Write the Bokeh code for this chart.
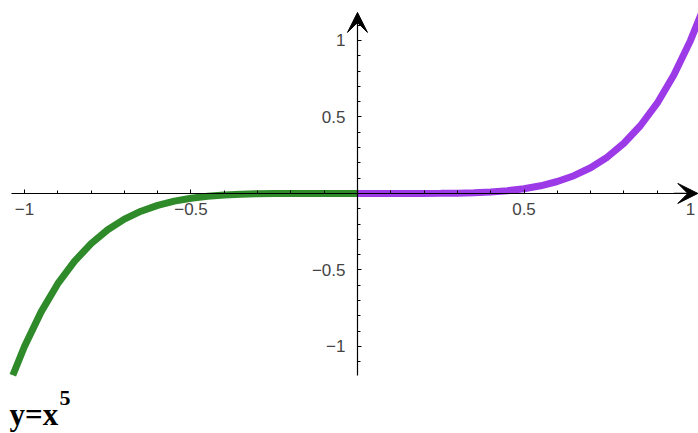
from bokeh.plotting import figure
from bokeh.models import Range1d, FixedTicker, Arrow, VeeHead, Label
from bokeh.embed import file_html
from bokeh.resources import INLINE

# --- data (y = x^5) ---
x_neg = [-1.035, -1.0, -0.95, -0.9, -0.85, -0.8, -0.75, -0.7, -0.65, -0.6, -0.55,
         -0.5, -0.45, -0.4, -0.35, -0.3, -0.25, -0.2, -0.15, -0.1, -0.05, 0.0]
y_neg = [-1.188, -1.0, -0.774, -0.590, -0.444, -0.328, -0.237, -0.168, -0.116, -0.078, -0.050,
         -0.031, -0.018, -0.010, -0.005, -0.002, -0.001, -0.0003, -0.0001, 0.0, 0.0, 0.0]
x_pos = [0.0, 0.05, 0.1, 0.15, 0.2, 0.25, 0.3, 0.35, 0.4, 0.45, 0.5, 0.55,
         0.6, 0.65, 0.7, 0.75, 0.8, 0.85, 0.9, 0.95, 1.0, 1.035, 1.05]
y_pos = [0.0, 0.0, 0.0, 0.0001, 0.0003, 0.001, 0.002, 0.005, 0.010, 0.018, 0.031, 0.050,
         0.078, 0.116, 0.168, 0.237, 0.328, 0.444, 0.590, 0.774, 1.0, 1.188, 1.276]

major_ticks = [-1, -0.5, 0.5, 1]
tick_labels = {-1: "\u22121", -0.5: "\u22120.5", 0.5: "0.5", 1: "1"}
x_minor = [-1.0, -0.9, -0.8, -0.7, -0.6, -0.5, -0.4, -0.3, -0.2, -0.1,
           0.1, 0.2, 0.3, 0.4, 0.5, 0.6, 0.7, 0.8, 0.9, 1.0]
y_minor = [-1.1, -1.0, -0.9, -0.8, -0.7, -0.6, -0.5, -0.4, -0.3, -0.2, -0.1,
           0.1, 0.2, 0.3, 0.4, 0.5, 0.6, 0.7, 0.8, 0.9, 1.0, 1.1]
title_text = "y=x"
title_sup = "5"

p = figure(width=698, height=433, output_backend="svg", toolbar_location=None,
           x_range=Range1d(-1.072, 1.024), y_range=Range1d(-1.569, 1.261),
           min_border=0, min_border_left=0, min_border_right=0,
           min_border_top=0, min_border_bottom=0)
p.outline_line_color = None
p.grid.visible = False
p.background_fill_color = "white"
p.border_fill_color = "white"

# axes through the origin
for ax in (p.xaxis[0], p.yaxis[0]):
    ax.fixed_location = 0
    ax.axis_line_color = "black"
    ax.axis_line_width = 1.2
    ax.major_tick_line_color = "black"
    ax.minor_tick_line_color = "black"
    ax.major_tick_out = 0
    ax.major_tick_in = 4
    ax.minor_tick_out = 0
    ax.minor_tick_in = 3
    ax.major_label_text_font = "Liberation Sans"
    ax.major_label_text_font_size = "17px"
    ax.major_label_text_color = "#444444"
    ax.major_label_overrides = tick_labels

p.xaxis[0].ticker = FixedTicker(ticks=major_ticks, minor_ticks=x_minor)
p.yaxis[0].ticker = FixedTicker(ticks=major_ticks, minor_ticks=y_minor)
p.xaxis[0].bounds = (-1.04, 1.0)
p.yaxis[0].bounds = (-1.19, 1.12)
p.xaxis[0].major_label_standoff = 10
p.yaxis[0].major_label_standoff = 12

# arrowheads
p.add_layout(Arrow(x_start=0.95, y_start=0, x_end=1.022, y_end=0, line_width=1.2,
                   end=VeeHead(size=20, fill_color="black", line_color="black")))
p.add_layout(Arrow(x_start=0, y_start=1.1, x_end=0, y_end=1.183, line_width=1.2,
                   end=VeeHead(size=20, fill_color="black", line_color="black")))

# curve
p.line(x_neg, y_neg, line_width=7, line_color="#2f8a2a")
p.line(x_pos, y_pos, line_width=7, line_color="#9d3ae8")

# caption
p.add_layout(Label(x=-1.045, y=-1.448, text=title_text, text_font="Liberation Serif",
                   text_font_style="bold", text_font_size="31px", text_color="black",
                   text_baseline="alphabetic"))
p.add_layout(Label(x=-1.045, y=-1.448, x_offset=50, y_offset=17, text=title_sup,
                   text_font="Liberation Serif", text_font_style="bold",
                   text_font_size="22px", text_color="black", text_baseline="alphabetic"))

open("out.html", "w").write(file_html(p, INLINE))
